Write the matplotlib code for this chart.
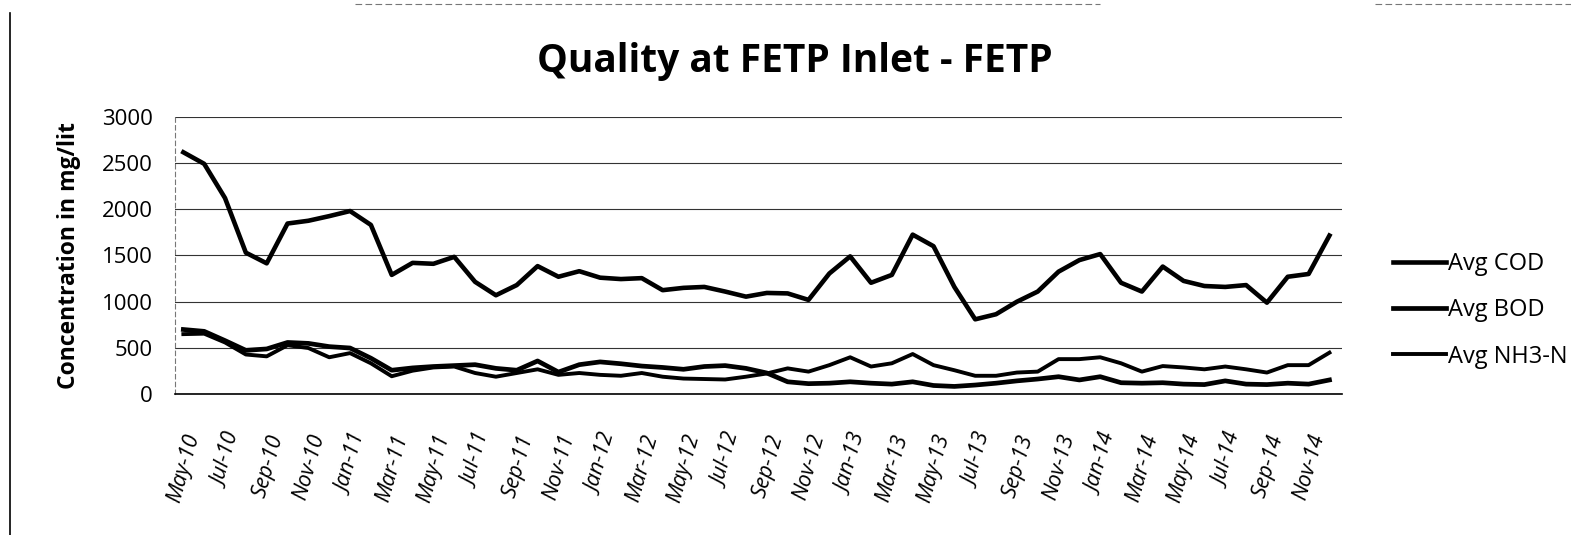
import matplotlib
matplotlib.use("Agg")
import matplotlib.pyplot as plt
from matplotlib.lines import Line2D

# monthly data, May-10 .. Dec-14
months = ["May-10", "Jun-10", "Jul-10", "Aug-10", "Sep-10", "Oct-10", "Nov-10", "Dec-10",
          "Jan-11", "Feb-11", "Mar-11", "Apr-11", "May-11", "Jun-11", "Jul-11", "Aug-11",
          "Sep-11", "Oct-11", "Nov-11", "Dec-11", "Jan-12", "Feb-12", "Mar-12", "Apr-12",
          "May-12", "Jun-12", "Jul-12", "Aug-12", "Sep-12", "Oct-12", "Nov-12", "Dec-12",
          "Jan-13", "Feb-13", "Mar-13", "Apr-13", "May-13", "Jun-13", "Jul-13", "Aug-13",
          "Sep-13", "Oct-13", "Nov-13", "Dec-13", "Jan-14", "Feb-14", "Mar-14", "Apr-14",
          "May-14", "Jun-14", "Jul-14", "Aug-14", "Sep-14", "Oct-14", "Nov-14", "Dec-14"]

avg_cod = [2615, 2490, 2120, 1530, 1415, 1845, 1875, 1925, 1980, 1830, 1290, 1420,
           1410, 1485, 1215, 1070, 1180, 1385, 1270, 1330, 1260, 1245, 1255, 1125,
           1150, 1160, 1110, 1055, 1095, 1090, 1020, 1305, 1490, 1205, 1290, 1725,
           1600, 1160, 810, 865, 1000, 1110, 1325, 1450, 1515, 1205, 1110, 1380,
           1225, 1170, 1160, 1180, 990, 1270, 1300, 1715]

avg_bod = [700, 680, 580, 475, 490, 560, 550, 515, 500, 390, 260, 285,
           300, 310, 320, 280, 260, 360, 240, 320, 350, 330, 305, 290,
           270, 300, 310, 280, 230, 135, 115, 120, 135, 120, 110, 135,
           95, 85, 100, 120, 145, 165, 190, 155, 190, 125, 120, 125,
           110, 105, 145, 110, 105, 120, 110, 155]

avg_nh3 = [650, 655, 560, 430, 410, 530, 500, 400, 445, 335, 195, 255,
           290, 300, 230, 190, 230, 270, 210, 230, 210, 200, 230, 190,
           170, 165, 160, 190, 225, 280, 245, 315, 400, 300, 335, 435,
           315, 260, 200, 200, 235, 245, 380, 380, 400, 335, 245, 305,
           290, 270, 300, 270, 235, 315, 315, 450]

x = list(range(len(months)))

plt.rcParams['font.family'] = ['Open Sans', 'DejaVu Sans']

fig = plt.figure(figsize=(15.71, 5.35), dpi=100)
ax = fig.add_axes([0.1114, 0.263, 0.7428, 0.519])

ax.plot(x, avg_cod, color="black", lw=3.3, label="Avg COD", solid_joinstyle="round")
ax.plot(x, avg_bod, color="black", lw=3.4, label="Avg BOD", solid_joinstyle="round")
ax.plot(x, avg_nh3, color="black", lw=2.8, label="Avg NH3-N", solid_joinstyle="round")

ax.set_xlim(-0.4, 55.6)
ax.set_ylim(0, 3000)
ax.set_yticks(range(0, 3001, 500))
ax.yaxis.grid(True, color="#333333", lw=0.8)
ax.set_axisbelow(True)
ax.tick_params(axis="y", length=0, labelsize=16, pad=16)
ax.tick_params(axis="x", length=0, labelsize=15.5, pad=27)

ax.set_xticks(x[::2])
ax.set_xticklabels(months[::2], rotation=74, ha="right", rotation_mode="anchor",
                   style="italic")

for side in ["top", "right"]:
    ax.spines[side].set_visible(False)
ax.spines["left"].set_color("#777777")
ax.spines["left"].set_linestyle((0, (4, 3)))
ax.spines["left"].set_linewidth(0.8)
ax.spines["bottom"].set_linewidth(1.2)

ax.set_ylabel("Concentration in mg/lit", fontsize=16.5, fontweight="bold", labelpad=15)
fig.text(0.506, 0.885, "Quality at FETP Inlet - FETP", ha="center", va="center",
         fontsize=28, fontweight="bold")

fig.legend(loc="center left", bbox_to_anchor=(0.873, 0.42), frameon=False,
           fontsize=17, handlelength=2.25, handletextpad=0.1, labelspacing=0.95)

# outer chart border (left edge and faint top edge)
fig.add_artist(Line2D([0.0065, 0.0065], [0.0, 0.975], color="black", lw=1.2))
fig.add_artist(Line2D([0.226, 0.70], [0.992, 0.992], color="#777777", lw=0.8,
                      linestyle=(0, (6, 3))))
fig.add_artist(Line2D([0.875, 1.0], [0.992, 0.992], color="#777777", lw=0.8,
                      linestyle=(0, (6, 3))))

fig.savefig("out.png", dpi=100)
